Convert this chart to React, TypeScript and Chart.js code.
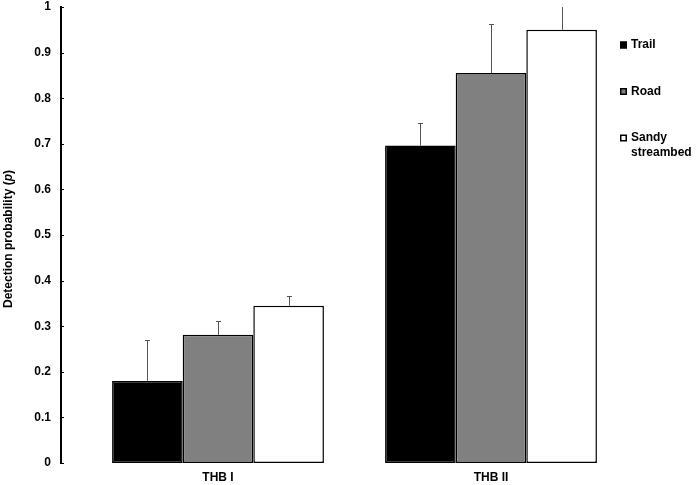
import React, { useEffect, useRef } from "react";
import { Chart, registerables } from "chart.js";

Chart.register(...registerables);

const categories = ["THB I", "THB II"];
const seriesNames = ["Trail", "Road", "Sandy streambed"];
const trailValues = [0.18, 0.696];
const roadValues = [0.281, 0.855];
const sandyValues = [0.345, 0.95];
const trailErrors = [0.089, 0.049];
const roadErrors = [0.031, 0.108];
const sandyErrors = [0.021, 0.055];
const yTickValues = [0, 0.1, 0.2, 0.3, 0.4, 0.5, 0.6, 0.7, 0.8, 0.9, 1];
const yTitle = ["Detection probability (", "p", ")"];
const seriesColors = ["#000000", "#808080", "#ffffff"];

const FONT = '"Liberation Sans", Arial, sans-serif';

const errorBarPlugin = {
  id: "errorBars",
  afterDatasetsDraw(chart: any) {
    const { ctx, chartArea, scales } = chart;
    const y = scales.y;
    ctx.save();
    ctx.beginPath();
    ctx.rect(chartArea.left, chartArea.top, chartArea.right - chartArea.left, chartArea.bottom - chartArea.top);
    ctx.clip();
    ctx.strokeStyle = "#555555";
    ctx.lineWidth = 1;
    chart.data.datasets.forEach((ds: any, di: number) => {
      const meta = chart.getDatasetMeta(di);
      meta.data.forEach((el: any, i: number) => {
        const v = ds.data[i].y;
        const e = ds.errors[i];
        const x = Math.round(el.x) + 0.5;
        const y0 = el.y;
        const y1 = Math.round(y.getPixelForValue(v + e)) + 0.5;
        ctx.beginPath();
        ctx.moveTo(x, y0);
        ctx.lineTo(x, y1);
        ctx.moveTo(x - 2.5, y1);
        ctx.lineTo(x + 2.5, y1);
        ctx.stroke();
      });
    });
    ctx.restore();
  },
};

const decorPlugin = {
  id: "decor",
  afterDraw(chart: any) {
    const { ctx, chartArea, scales } = chart;
    const y = scales.y;
    ctx.save();
    // inner tick marks
    ctx.strokeStyle = "#000000";
    ctx.lineWidth = 1;
    yTickValues.forEach((v) => {
      const py = Math.round(y.getPixelForValue(v)) + 0.5;
      ctx.beginPath();
      ctx.moveTo(chartArea.left, py);
      ctx.lineTo(chartArea.left + 3, py);
      ctx.stroke();
    });
    // y title with italic p
    const fonts = [
      `bold 12px ${FONT}`,
      `italic bold 12px ${FONT}`,
      `bold 12px ${FONT}`,
    ];
    let total = 0;
    const widths = yTitle.map((t, i) => {
      ctx.font = fonts[i];
      const w = ctx.measureText(t).width;
      total += w;
      return w;
    });
    ctx.translate(9, 239);
    ctx.rotate(-Math.PI / 2);
    ctx.fillStyle = "#000000";
    ctx.textBaseline = "middle";
    ctx.textAlign = "left";
    let cx = -total / 2;
    yTitle.forEach((t, i) => {
      ctx.font = fonts[i];
      ctx.fillText(t, cx, 0);
      cx += widths[i];
    });
    ctx.restore();

    // legend
    ctx.save();
    ctx.font = `bold 12px ${FONT}`;
    ctx.textBaseline = "middle";
    ctx.textAlign = "left";
    const legendX = 620;
    const legendY = [45, 91.5, 138];
    const lineH = 14.5;
    chart.data.datasets.forEach((ds: any, i: number) => {
      const words = String(ds.label).split(" ");
      const lines: string[] = [];
      let cur = "";
      words.forEach((w) => {
        const test = cur ? cur + " " + w : w;
        if (cur && ctx.measureText(test).width > 60) {
          lines.push(cur);
          cur = w;
        } else cur = test;
      });
      if (cur) lines.push(cur);
      const yy = legendY[i];
      ctx.fillStyle = ds.backgroundColor;
      ctx.fillRect(legendX, yy - 3.5, 7, 7);
      ctx.strokeStyle = "#000000";
      ctx.lineWidth = 1.5;
      ctx.strokeRect(legendX + 0.75, yy - 2.75, 5.5, 5.5);
      ctx.fillStyle = "#000000";
      lines.forEach((l, li) => ctx.fillText(l, legendX + 11, yy + li * lineH));
    });
    ctx.restore();
  },
};

export default function App() {
  const ref = useRef<HTMLCanvasElement | null>(null);
  useEffect(() => {
    if (!ref.current) return;
    const values = [trailValues, roadValues, sandyValues];
    const errors = [trailErrors, roadErrors, sandyErrors];
    const chart = new Chart(ref.current, {
      type: "bar",
      data: {
        datasets: seriesNames.map((name, si) => ({
          label: name,
          data: categories.map((_, ci) => ({ x: ci, y: values[si][ci] })),
          errors: errors[si],
          backgroundColor: seriesColors[si],
          borderColor: "#000000",
          borderWidth: 1.5,
          borderSkipped: false,
          categoryPercentage: 0.776,
          barPercentage: 1,
        })) as any,
      },
      options: {
        responsive: false,
        animation: false,
        events: [],
        layout: { padding: { top: 0, right: 87, left: 0, bottom: 0 } },
        plugins: { legend: { display: false }, tooltip: { enabled: false } },
        scales: {
          x: {
            type: "linear",
            min: -0.5751,
            max: 1.4359,
            bounds: "data",
            offset: false,
            grid: { display: false, drawTicks: false, offset: false },
            border: { display: false },
            afterBuildTicks: (scale: any) => {
              scale.ticks = categories.map((_, i) => ({ value: i }));
            },
            afterFit: (scale: any) => {
              scale.height = 22;
              scale.paddingLeft = 0;
              scale.paddingRight = 0;
            },
            ticks: {
              padding: 7,
              maxRotation: 0,
              autoSkip: false,
              color: "#000000",
              font: { family: FONT, size: 12, weight: "bold" },
              callback: (v: any) => categories[Math.round(Number(v))] ?? "",
            },
          },
          y: {
            min: 0,
            max: 1,
            grid: { display: false, drawTicks: false },
            border: { display: true, color: "#000000", width: 2 },
            afterFit: (scale: any) => {
              scale.width = 61;
              scale.paddingTop = 7;
              scale.paddingBottom = 0;
            },
            afterBuildTicks: (scale: any) => {
              scale.ticks = yTickValues.map((v) => ({ value: v }));
            },
            ticks: {
              padding: 10,
              color: "#000000",
              font: { family: FONT, size: 12, weight: "bold" },
              callback: (v: any) => String(+Number(v).toFixed(1)),
            },
          },
        },
      } as any,
      plugins: [errorBarPlugin, decorPlugin],
    });
    return () => chart.destroy();
  }, []);
  return (
    <div style={{ position: "fixed", left: 0, top: 0, width: 697, height: 485, background: "#fff" }}>
      <canvas ref={ref} width={697} height={485} style={{ width: 697, height: 485, display: "block" }} />
    </div>
  );
}
